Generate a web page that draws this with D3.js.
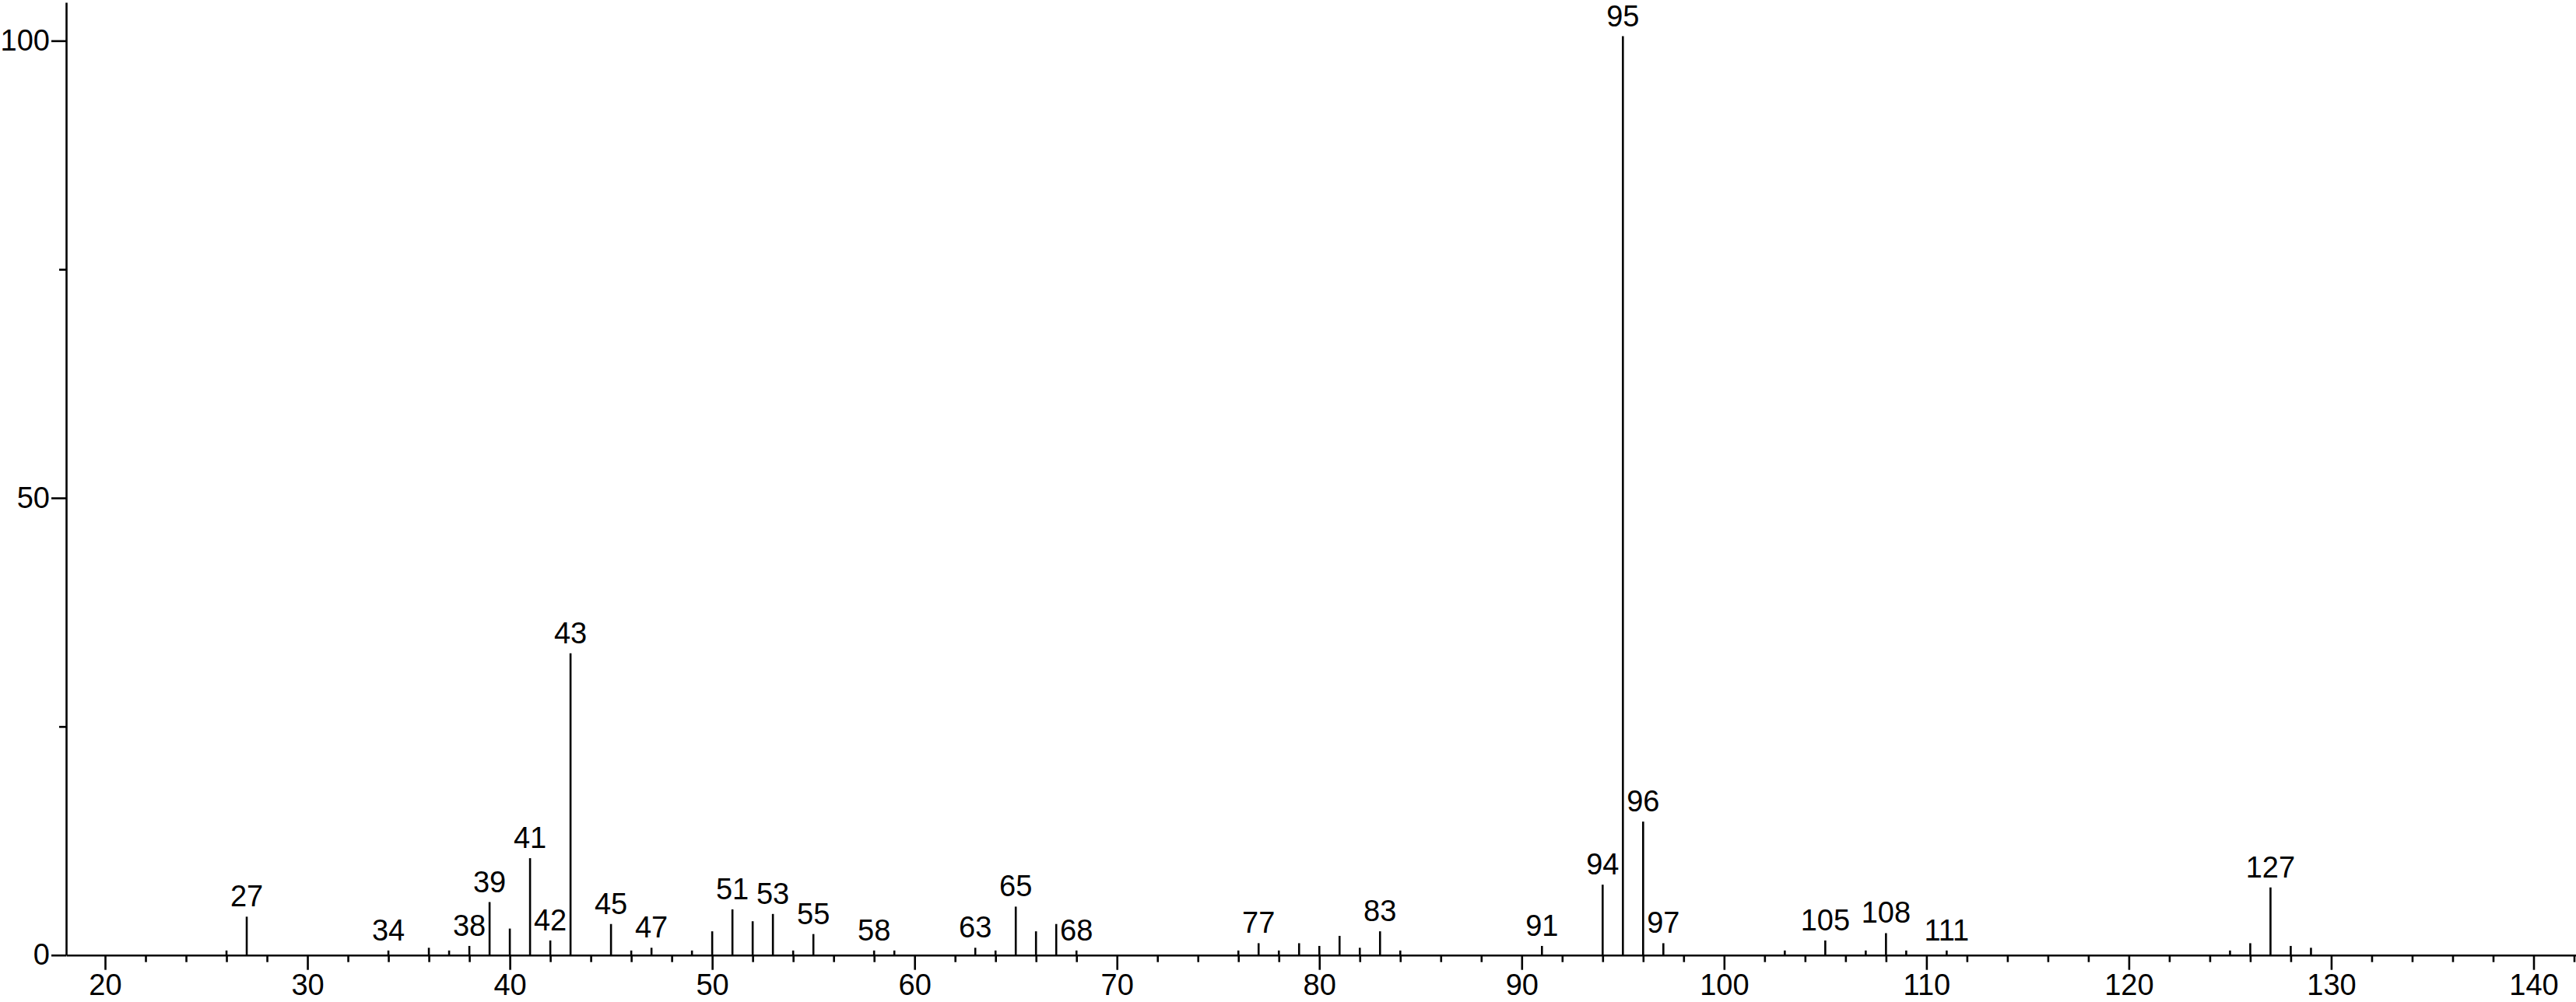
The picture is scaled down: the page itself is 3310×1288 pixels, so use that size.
<!DOCTYPE html>
<html>
<head>
<meta charset="utf-8">
<script src="https://cdn.jsdelivr.net/npm/d3@7"></script>
<style>
  body { margin: 0; background: #fff; overflow: hidden; }
  svg { display: block; }
  text { font-family: "Liberation Sans", Arial, sans-serif; }
</style>
</head>
<body>
<script>
// m/z values of the peaks
const masses = [26, 27, 34, 36, 37, 38, 39, 40, 41, 42, 43, 45, 46, 47, 49, 50, 51, 52, 53, 54, 55,
  58, 59, 63, 64, 65, 66, 67, 68, 76, 77, 78, 79, 80, 81, 82, 83, 84, 91, 94, 95, 96, 97,
  103, 105, 107, 108, 109, 111, 125, 126, 127, 128, 129];

// relative intensities (%)
const intensities = [0.5, 4.2, 0.5, 0.8, 0.5, 1.0, 5.8, 2.9, 10.6, 1.6, 33.0, 3.4, 0.5, 0.8, 0.5, 2.6, 5.0, 3.7, 4.5, 0.5, 2.3,
  0.5, 0.5, 0.8, 0.5, 5.3, 2.6, 3.4, 0.5, 0.5, 1.3, 0.5, 1.3, 1.0, 2.1, 0.8, 2.6, 0.5, 1.0, 7.7, 100.5, 14.6, 1.3,
  0.5, 1.6, 0.5, 2.4, 0.5, 0.5, 0.5, 1.3, 7.4, 1.0, 0.8];

// peaks that get a label
const labeled = [27, 34, 38, 39, 41, 42, 43, 45, 47, 51, 53, 55, 58, 63, 65, 68, 77, 83, 91,
  94, 95, 96, 97, 105, 108, 111, 127];

// axis ticks
const xMajorTicks = [20, 30, 40, 50, 60, 70, 80, 90, 100, 110, 120, 130, 140];
const xMinorTicks = d3.range(20, 143, 2).filter((d) => d % 10 !== 0);
const yMajorTicks = [0, 50, 100];
const yMinorTicks = [25, 75];

function renderSpectrum() {
  const width = 3310;
  const height = 1288;
  const fontSize = 38;

  const data = masses.map((m, i) => ({ mz: m, value: intensities[i] }));

  const svg = d3.select('body')
    .append('svg')
    .attr('width', width)
    .attr('height', height);

  // scales
  const xScale = d3.scaleLinear()
    .domain([18.077, 142.096])
    .range([85, width]);

  const yScale = d3.scaleLinear()
    .domain([0, 104.2])
    .range([1227.7, 3]);

  const baseline = yScale(0);

  // minor x ticks first (no labels)
  svg.append('g')
    .attr('transform', `translate(0, ${baseline})`)
    .call(d3.axisBottom(xScale).tickValues(xMinorTicks).tickSize(9).tickSizeOuter(0).tickFormat(''))
    .call((g) => g.select('.domain').remove());

  // x axis
  svg.append('g')
    .attr('id', 'x-axis')
    .attr('transform', `translate(0, ${baseline})`)
    .call(d3.axisBottom(xScale).tickValues(xMajorTicks).tickSize(19).tickSizeOuter(0).tickPadding(5));

  // y minor ticks
  svg.append('g')
    .attr('transform', 'translate(85, 0)')
    .call(d3.axisLeft(yScale).tickValues(yMinorTicks).tickSize(9).tickSizeOuter(0).tickFormat(''))
    .call((g) => g.select('.domain').remove());

  // y axis
  svg.append('g')
    .attr('id', 'y-axis')
    .attr('transform', 'translate(85, 0)')
    .call(d3.axisLeft(yScale).tickValues(yMajorTicks).tickSize(19).tickSizeOuter(0).tickPadding(2));

  svg.selectAll('.tick line, .domain')
    .attr('stroke', '#000')
    .attr('stroke-width', 2.6);

  svg.selectAll('.tick text')
    .attr('font-size', fontSize)
    .attr('font-family', '"Liberation Sans", Arial, sans-serif')
    .attr('fill', '#000');

  // peaks
  svg.append('g')
    .selectAll('line')
    .data(data)
    .join('line')
    .attr('x1', (d) => xScale(d.mz))
    .attr('x2', (d) => xScale(d.mz))
    .attr('y1', baseline)
    .attr('y2', (d) => yScale(d.value))
    .attr('stroke', '#000')
    .attr('stroke-width', 2.6);

  // peak labels
  svg.append('g')
    .selectAll('text')
    .data(data.filter((d) => labeled.includes(d.mz)))
    .join('text')
    .attr('x', (d) => xScale(d.mz))
    .attr('y', (d) => yScale(d.value) - 13)
    .attr('text-anchor', 'middle')
    .attr('font-size', fontSize)
    .attr('fill', '#000')
    .text((d) => d.mz);
}

renderSpectrum();
</script>
</body>
</html>
